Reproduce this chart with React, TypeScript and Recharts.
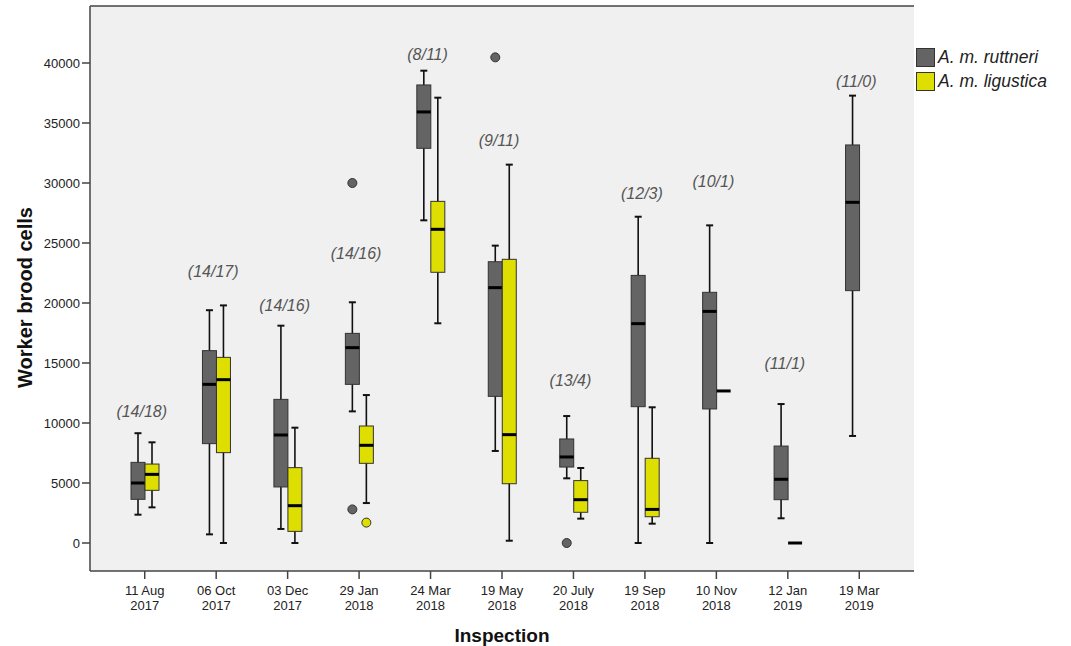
import React from 'react';
import { ComposedChart, Bar, Scatter, XAxis, YAxis, CartesianGrid, Legend } from 'recharts';

// Inspection dates (two-line tick labels split at the last space)
const categories = [
  '11 Aug 2017', '06 Oct 2017', '03 Dec 2017', '29 Jan 2018', '24 Mar 2018', '19 May 2018',
  '20 July 2018', '19 Sep 2018', '10 Nov 2018', '12 Jan 2019', '19 Mar 2019',
];

// A. m. ruttneri box statistics
const rutMin = [2360, 720, 1170, 10970, 26890, 7670, 5390, 0, 0, 2060, 8920];
const rutQ1 = [3640, 8280, 4670, 13220, 32890, 12220, 6330, 11360, 11170, 3610, 21030];
const rutMed = [5000, 13220, 9000, 16280, 35920, 21280, 7170, 18280, 19300, 5310, 28390];
const rutQ3 = [6720, 16030, 11970, 17470, 38170, 23440, 8670, 22300, 20890, 8080, 33170];
const rutMax = [9150, 19400, 18110, 20060, 39360, 24780, 10580, 27190, 26470, 11580, 37280];
const rutOut = [[], [], [], [30000, 2800], [], [40470], [0], [], [], [], []];

// A. m. ligustica box statistics (none on 19 Mar 2019)
const ligMin = [2970, 0, 0, 3330, 18310, 190, 2030, 1610, 12670, 0, null];
const ligQ1 = [4390, 7530, 970, 6640, 22560, 4940, 2560, 2190, 12670, 0, null];
const ligMed = [5720, 13610, 3110, 8140, 26140, 9030, 3610, 2800, 12670, 0, null];
const ligQ3 = [6580, 15470, 6280, 9750, 28470, 23640, 5200, 7060, 12670, 0, null];
const ligMax = [8390, 19800, 9610, 12330, 37110, 31530, 6250, 11310, 12670, 0, null];
const ligOut = [[], [], [], [1700], [], [], [], [], [], [], []];

// sample sizes shown above each group, and where they sit
const counts = ['(14/18)', '(14/17)', '(14/16)', '(14/16)', '(8/11)', '(9/11)', '(13/4)', '(12/3)', '(10/1)', '(11/1)', '(11/0)'];
const countY = [10940, 22610, 19830, 24140, 40720, 33580, 13580, 29140, 30110, 14970, 38440];

const yTicks = [0, 5000, 10000, 15000, 20000, 25000, 30000, 35000, 40000];
const seriesNames = ['A. m. ruttneri', 'A. m. ligustica'];
const seriesColors = ['#646464', '#dede00'];

const Y_MIN = -2333;
const Y_MAX = 44750;
const FONT = '"Liberation Sans", Arial, sans-serif';

const data = categories.map((cat, i) => ({
  cat,
  rutMin: rutMin[i], rutQ1: rutQ1[i], rutMed: rutMed[i], rutQ3: rutQ3[i], rutMax: rutMax[i], rutOut: rutOut[i],
  ligMin: ligMin[i], ligQ1: ligQ1[i], ligMed: ligMed[i], ligQ3: ligQ3[i], ligMax: ligMax[i], ligOut: ligOut[i],
  // bar spans from the axis floor to the top whisker, so the shape can map values to pixels
  rutRange: [Y_MIN, rutMax[i]],
  ligRange: ligMax[i] == null ? null : [Y_MIN, ligMax[i]],
  label: counts[i],
  labelY: countY[i],
}));

const makeBox = (prefix: string, color: string) => (props: any) => {
  const { x, y, width, height, payload } = props;
  const hi = payload[prefix + 'Max'];
  if (hi == null || height == null) return null;
  const top = Math.min(y, y + height);
  const h = Math.abs(height);
  const py = (v: number) => top + (h * (hi - v)) / (hi - Y_MIN);
  const cx = x + width / 2;
  const lo = payload[prefix + 'Min'];
  const q1 = payload[prefix + 'Q1'];
  const q3 = payload[prefix + 'Q3'];
  const med = payload[prefix + 'Med'];
  const outs: number[] = payload[prefix + 'Out'] || [];
  return (
    <g>
      {hi > lo && (
        <g stroke="#111" strokeWidth={1.6}>
          <line x1={cx} x2={cx} y1={py(hi)} y2={py(lo)} />
          <line x1={cx - 3.5} x2={cx + 3.5} y1={py(hi)} y2={py(hi)} strokeWidth={2} />
          <line x1={cx - 3.5} x2={cx + 3.5} y1={py(lo)} y2={py(lo)} strokeWidth={2} />
        </g>
      )}
      {q3 > q1 && (
        <rect x={x} y={py(q3)} width={width} height={py(q1) - py(q3)} fill={color} stroke="#333" strokeWidth={1} />
      )}
      <line x1={x} x2={x + width} y1={py(med)} y2={py(med)} stroke="#000" strokeWidth={3} />
      {outs.map((o, k) => (
        <circle key={k} cx={cx} cy={py(o)} r={4.5} fill={color} stroke="#333" strokeWidth={1} />
      ))}
    </g>
  );
};

const RutBox = makeBox('rut', seriesColors[0]);
const LigBox = makeBox('lig', seriesColors[1]);

const CountLabel = (props: any) => {
  const { cx, cy, payload } = props;
  return (
    <text x={cx - 3} y={cy} textAnchor="middle" dominantBaseline="central"
      fontFamily={FONT} fontStyle="italic" fontSize={16} fill="#555">
      {payload.label}
    </text>
  );
};

const DateTick = (props: any) => {
  const { x, y, payload } = props;
  const s: string = payload.value;
  const cut = s.lastIndexOf(' ');
  return (
    <text x={x} y={y + 16} textAnchor="middle" fontFamily={FONT} fontSize={13} fill="#222">
      <tspan x={x}>{s.slice(0, cut)}</tspan>
      <tspan x={x} dy={14.5}>{s.slice(cut + 1)}</tspan>
    </text>
  );
};

const LegendBox = () => (
  <div style={{ fontFamily: FONT, fontStyle: 'italic', fontSize: 17.5, color: '#222' }}>
    {seriesNames.map((n, i) => (
      <div key={n} style={{ display: 'flex', alignItems: 'center', height: 24 }}>
        <span style={{ display: 'inline-block', width: 17, height: 17, background: seriesColors[i], border: '1px solid #333', marginRight: 3 }} />
        <span>{n}</span>
      </div>
    ))}
  </div>
);

export default function App() {
  return (
    <div style={{ position: 'absolute', left: 0, top: 0, width: 1071, height: 646, background: '#fff' }}>
      <ComposedChart width={1071} height={646} data={data} barGap={0}
        margin={{ top: 5, right: 157, bottom: 35, left: 0 }}>
        <CartesianGrid horizontal={false} vertical={false} fill="#f0f0f0" />
        <XAxis dataKey="cat" height={40} padding={{ left: 19, right: 19 }} interval={0}
          axisLine={{ stroke: '#444', strokeWidth: 1.5 }} tickLine={{ stroke: '#444', strokeWidth: 1.5 }}
          tickSize={8} tickMargin={0} tick={<DateTick />}
          label={{
            content: (p: any) => (
              <text x={p.viewBox.x + p.viewBox.width / 2} y={642} textAnchor="middle"
                fontFamily={FONT} fontWeight="bold" fontSize={19} fill="#111">Inspection</text>
            ),
          }} />
        <XAxis xAxisId="top" dataKey="cat" orientation="top" height={1} tick={false} tickLine={false}
          axisLine={{ stroke: '#444', strokeWidth: 1.5 }} />
        <YAxis width={90} domain={[Y_MIN, Y_MAX]} ticks={yTicks} allowDataOverflow interval={0}
          axisLine={{ stroke: '#444', strokeWidth: 1.5 }} tickLine={{ stroke: '#444', strokeWidth: 1.5 }}
          tickSize={8} tickMargin={2} tick={{ fontFamily: FONT, fontSize: 13, fill: '#222' }}
          label={{
            content: (p: any) => {
              const cy = p.viewBox.y + p.viewBox.height / 2 + 9;
              return (
                <text x={0} y={0} textAnchor="middle" transform={`translate(32 ${cy}) rotate(-90)`}
                  fontFamily={FONT} fontWeight="bold" fontSize={20} fill="#111">Worker brood cells</text>
              );
            },
          }} />
        <YAxis yAxisId="right" orientation="right" width={0} domain={[0, 1]} tick={false} tickLine={false}
          axisLine={{ stroke: '#444', strokeWidth: 1.5 }} />
        <Legend content={<LegendBox />} layout="horizontal" verticalAlign="middle" align="center"
          wrapperStyle={{ left: 916, top: 45, width: 'auto' }} />
        <Bar dataKey="rutRange" name={seriesNames[0]} fill={seriesColors[0]} barSize={14}
          shape={<RutBox />} isAnimationActive={false} />
        <Bar dataKey="ligRange" name={seriesNames[1]} fill={seriesColors[1]} barSize={14}
          shape={<LigBox />} isAnimationActive={false} />
        <Scatter dataKey="labelY" legendType="none" shape={<CountLabel />} isAnimationActive={false} />
      </ComposedChart>
    </div>
  );
}
